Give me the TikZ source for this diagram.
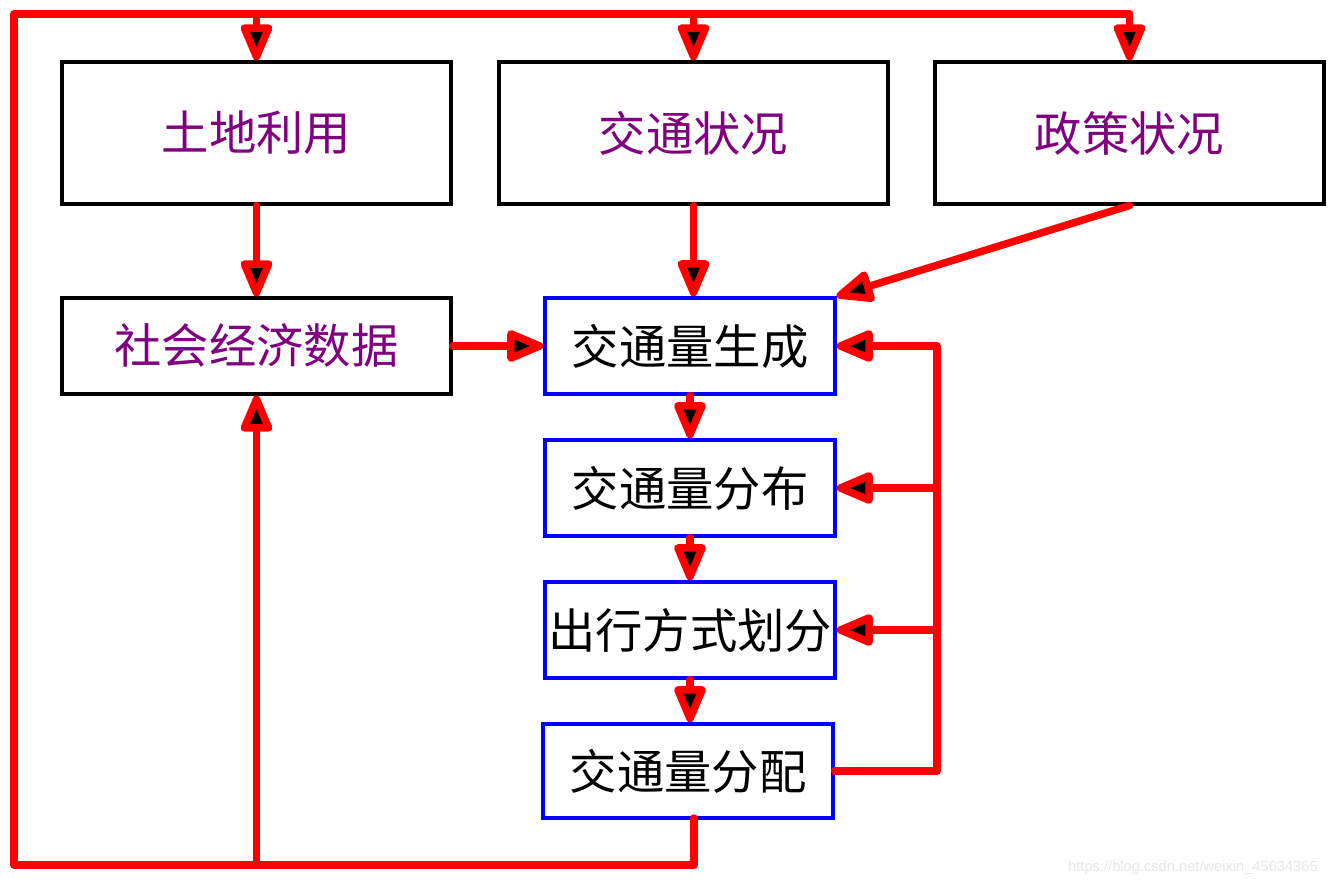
\documentclass[tikz,border=0pt]{standalone}
\usepackage{fontspec}
\newfontfamily\cjk{Noto Sans CJK SC}
\usetikzlibrary{arrows.meta}
\definecolor{txtpurple}{HTML}{800080}
\definecolor{boxblue}{HTML}{0000FF}
\definecolor{linered}{HTML}{FF0000}
\definecolor{wmgray}{HTML}{E6E6E6}
\tikzset{
  inbox/.style={draw=black, line width=2.3pt, minimum width=291.75pt, text=txtpurple, font=\cjk\fontsize{35.5}{40}\selectfont, inner sep=0pt},
  procbox/.style={draw=boxblue, line width=2.5pt, minimum width=217.5pt, minimum height=72pt, text=black, font=\cjk\fontsize{35.5}{40}\selectfont, inner sep=0pt},
  redline/.style={draw=linered, line width=5.6pt, line cap=round, line join=round},
  redarrow/.style={redline, -{Triangle[round, fill=black, length=32pt, width=25pt]}},
}
\begin{document}
\begin{tikzpicture}[x=0.75pt, y=-0.75pt]
\useasboundingbox (0,0) rectangle (1328,887);
% top input boxes
\node[inbox, minimum height=106.5pt] (lu) at (256.5,133) {土地利用};
\node[inbox, minimum height=106.5pt] (ts) at (693.5,133) {交通状况};
\node[inbox, minimum height=106.5pt] (ps) at (1129.5,133) {政策状况};
\node[inbox, minimum height=72pt] (se) at (256.5,346) {社会经济数据};
% process boxes
\node[procbox] (g) at (690,346) {交通量生成};
\node[procbox] (d) at (690,488) {交通量分布};
\node[procbox] (m) at (690,630) {出行方式划分};
\node[procbox, minimum height=70.5pt] (a) at (688,771) {交通量分配};
% helper coordinates
\coordinate (top) at (0,14);
\coordinate (bot) at (0,865);
\coordinate (lft) at (14,0);
\coordinate (fb) at (937,0);
\coordinate (out) at (694,818);
% outer loop
\draw[redline] (out) -- (out |- bot) -- (lft |- bot) -- (lft |- top) -- (ps.north |- top);
\draw[redarrow] (lu.north |- top) -- (lu.north);
\draw[redarrow] (ts.north |- top) -- (ts.north);
\draw[redarrow] (ps.north |- top) -- (ps.north);
\draw[redarrow] (se.south |- bot) -- (se.south);
% inputs to generation
\draw[redarrow] (lu.south) -- (se.north);
\draw[redarrow] (ts.south) -- (ts.south |- g.north);
\draw[redarrow] (ps.south) -- (g.north east);
\draw[redarrow] (se.east) -- (g.west);
% process chain
\draw[redarrow] (g.south) -- (d.north);
\draw[redarrow] (d.south) -- (m.north);
\draw[redarrow] (m.south) -- (m.south |- a.north);
% feedback
\draw[redarrow] (a.east) -- (fb |- a.east) -- (fb |- g.east) -- (g.east);
\draw[redarrow] (fb |- d.east) -- (d.east);
\draw[redarrow] (fb |- m.east) -- (m.east);
% watermark
\node[text=wmgray, font=\fontspec{Liberation Sans}\fontsize{11}{13}\selectfont, anchor=east, inner sep=0pt] (wm) at (1318,868) {https://blog.csdn.net/weixin\_45634365};
\end{tikzpicture}
\end{document}
